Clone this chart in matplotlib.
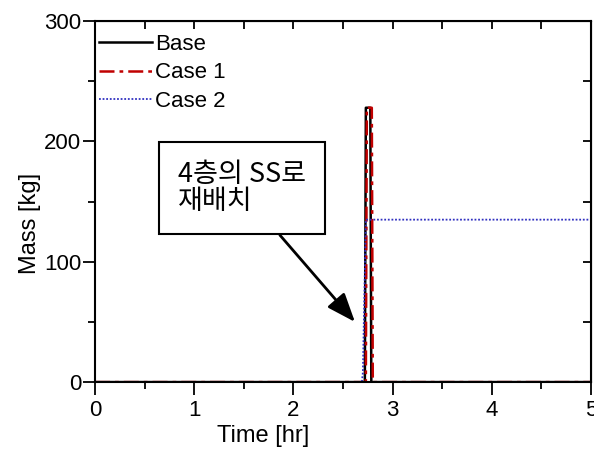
import numpy as np
import matplotlib.pyplot as plt
from matplotlib.ticker import MultipleLocator

plt.rcParams['font.family'] = ['Liberation Sans', 'DejaVu Sans']

# Mass of released material over time
t_base = [0.0, 2.72, 2.73, 2.775, 2.785, 5.0]
m_base = [0, 0, 228, 228, 0, 0]

t_case1 = [0.0, 2.73, 2.74, 2.79, 2.80, 5.0]
m_case1 = [0, 0, 228, 228, 0, 0]

t_case2 = [0.0, 2.69, 2.70, 2.73, 5.0]
m_case2 = [0, 0, 8, 135, 135]

fig = plt.figure(figsize=(5.94, 4.49), dpi=100)
ax = fig.add_axes([0.16, 0.149, 0.835, 0.804])

ax.plot(t_base, m_base, color='black', lw=1.8, label='Base')
ax.plot(t_case1, m_case1, color='#c00000', lw=1.8, ls=(0, (6, 2, 1.5, 2)), label='Case 1')
ax.plot(t_case2, m_case2, color='#3030c0', lw=1.3, ls=(0, (1, 1)), label='Case 2')

ax.set_xlim(0, 5)
ax.set_ylim(0, 300)
ax.xaxis.set_major_locator(MultipleLocator(1))
ax.xaxis.set_minor_locator(MultipleLocator(0.5))
ax.yaxis.set_major_locator(MultipleLocator(100))
ax.yaxis.set_minor_locator(MultipleLocator(50))
ax.tick_params(which='both', direction='out', labelsize=16, width=1.3)
ax.tick_params(which='major', length=9)
ax.tick_params(which='minor', length=5)
ax.tick_params(axis='x', which='major', pad=4)
ax.tick_params(axis='y', which='major', pad=1)
for s in ax.spines.values():
    s.set_linewidth(1.5)

# mirrored inward ticks on top and right
axt = ax.secondary_xaxis('top')
axt.xaxis.set_major_locator(MultipleLocator(0.5))
axt.tick_params(direction='in', length=6, width=1.3, labeltop=False)
axr = ax.secondary_yaxis('right')
axr.yaxis.set_major_locator(MultipleLocator(50))
axr.tick_params(direction='in', length=6, width=1.3, labelright=False)

ax.set_xlabel('Time [hr]', fontsize=17)
ax.xaxis.set_label_coords(0.338, -0.118)
ax.set_ylabel('Mass [kg]', fontsize=17)
ax.yaxis.set_label_coords(-0.108, 0.44)

ax.legend(loc='upper left', frameon=False, fontsize=16, handlelength=2.4,
          handletextpad=0.15, labelspacing=0.33, borderaxespad=0.0,
          borderpad=0.1, bbox_to_anchor=(0.003, 0.97))

ax.annotate('4층의 SS로\n재배치', xy=(2.62, 50), xytext=(0.84, 161),
            fontsize=19.5, family=['Noto Sans CJK KR', 'DejaVu Sans'],
            va='center', ha='left', linespacing=1.0,
            bbox=dict(boxstyle='square,pad=0.7', fc='white', ec='black', lw=1.5),
            arrowprops=dict(arrowstyle='-|>,head_length=0.9,head_width=0.35',
                            color='black', lw=2, shrinkA=0, shrinkB=0,
                            relpos=(0.66, 0.0)))

fig.savefig('out.png', dpi=100)
